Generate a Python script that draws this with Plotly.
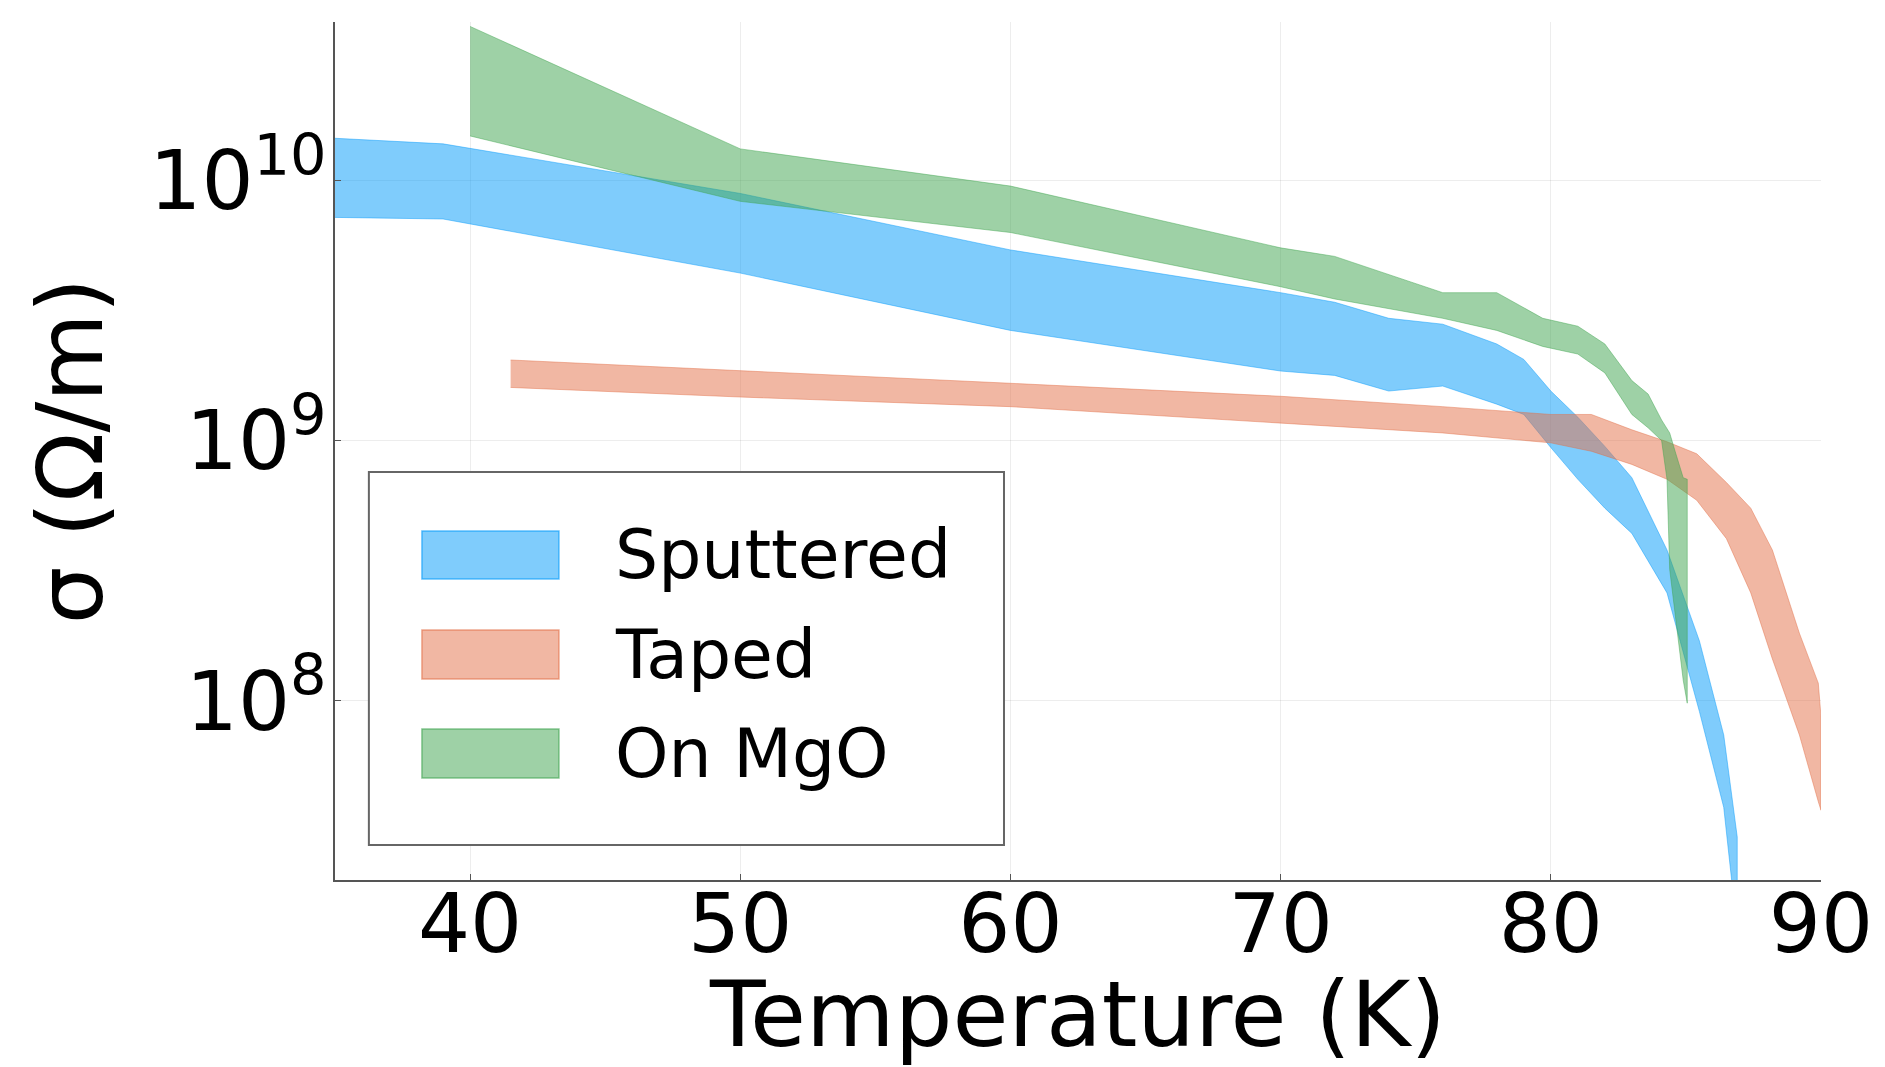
import plotly.graph_objects as go

# ---------------- data ----------------
# Sputtered
T_sput = [35, 39, 50, 60, 70, 72, 74, 76, 78, 79, 80, 81, 82, 83, 84.3, 85.5, 86.4, 86.9]
sput_hi = [1.45e10, 1.38e10, 8.9e9, 5.4e9, 3.7e9, 3.4e9, 2.95e9, 2.8e9, 2.35e9, 2.05e9,
           1.55e9, 1.23e9, 9.5e8, 7.2e8, 3.8e8, 1.7e8, 7.4e7, 3.0e7]
sput_lo = [7.2e9, 7.1e9, 4.4e9, 2.65e9, 1.85e9, 1.78e9, 1.55e9, 1.62e9, 1.38e9, 1.26e9,
           9.4e8, 7.1e8, 5.5e8, 4.4e8, 2.6e8, 9.1e7, 3.9e7, 1.3e7]

# Taped
T_tape = [41.5, 50, 60, 70, 76, 80, 81.5, 83, 84.3, 85.4, 86.5, 87.4, 88.2, 89.2, 89.9, 90]
tape_hi = [2.04e9, 1.86e9, 1.66e9, 1.48e9, 1.35e9, 1.26e9, 1.26e9, 1.10e9, 9.9e8, 8.9e8,
           6.9e8, 5.5e8, 3.8e8, 1.82e8, 1.17e8, 8.7e7]
tape_lo = [1.6e9, 1.47e9, 1.35e9, 1.17e9, 1.07e9, 9.8e8, 9.1e8, 8.1e8, 7.1e8, 5.9e8,
           4.2e8, 2.6e8, 1.45e8, 7.4e7, 4.1e7, 3.8e7]

# On MgO
T_mgo = [40, 50, 60, 70, 72, 76, 78, 79.7, 81, 82, 83, 83.6, 84.1, 84.3, 84.4, 84.6, 84.9, 85.05]
mgo_hi = [3.9e10, 1.32e10, 9.5e9, 5.5e9, 5.1e9, 3.7e9, 3.7e9, 2.95e9, 2.75e9, 2.35e9,
          1.7e9, 1.51e9, 1.2e9, 1.12e9, 1.07e9, 9.1e8, 7.2e8, 7.1e8]
mgo_lo = [1.48e10, 8.3e9, 6.3e9, 3.9e9, 3.5e9, 2.95e9, 2.65e9, 2.3e9, 2.15e9, 1.82e9,
          1.26e9, 1.12e9, 1.0e9, 7.1e8, 3.2e8, 2.1e8, 1.2e8, 9.8e7]

series_names = ["Sputtered", "Taped", "On MgO"]
series_colors = [(0, 154, 250), (227, 111, 71), (62, 164, 78)]

x_ticks = [40, 50, 60, 70, 80, 90]
y_ticks = [1e8, 1e9, 1e10]
y_ticktext = ["10<sup>8</sup>", "10<sup>9</sup>", "10<sup>10</sup>"]

FONT = "DejaVu Sans"

fig = go.Figure()

bands = [(T_sput, sput_hi, sput_lo), (T_tape, tape_hi, tape_lo), (T_mgo, mgo_hi, mgo_lo)]
for (T, hi, lo), name, (r, g, b) in zip(bands, series_names, series_colors):
    xs = list(T) + list(T)[::-1]
    ys = list(hi) + list(lo)[::-1]
    fig.add_trace(go.Scatter(
        x=xs, y=ys, mode="lines", fill="toself", name=name,
        fillcolor=f"rgba({r},{g},{b},0.5)",
        line=dict(color=f"rgba({r},{g},{b},0.45)", width=1),
        showlegend=False, hoverinfo="name",
    ))

# ---------------- custom legend (large swatches as in the reference) ----------------
shapes = [dict(type="rect", xref="paper", yref="paper", x0=0.0228, x1=0.4502,
               y0=0.0408, y1=0.4755, line=dict(color="#666666", width=2),
               fillcolor="white", layer="above")]
rows = [(0.3508, 0.4068), (0.2343, 0.2914), (0.1189, 0.1760)]
annotations = []
for (y0, y1), name, (r, g, b) in zip(rows, series_names, series_colors):
    shapes.append(dict(type="rect", xref="paper", yref="paper", x0=0.0585, x1=0.1507,
                       y0=y0, y1=y1, layer="above",
                       fillcolor=f"rgba({r},{g},{b},0.5)",
                       line=dict(color=f"rgba({r},{g},{b},0.6)", width=1.5)))
    annotations.append(dict(xref="paper", yref="paper", x=0.187, y=(y0 + y1) / 2,
                            text=name, showarrow=False, xanchor="left", yanchor="middle",
                            font=dict(family=FONT, size=68, color="black")))

# page body has an 8px default margin, so the figure is sized to fit the window
fig.update_layout(
    width=1877, height=1059,
    margin=dict(l=327, r=64, t=14, b=187),
    paper_bgcolor="white", plot_bgcolor="white",
    font=dict(family=FONT, color="black"),
    shapes=shapes, annotations=annotations,
    showlegend=False,
)
fig.update_xaxes(
    range=[35, 90], tickvals=x_ticks, ticktext=[str(v) for v in x_ticks],
    showgrid=True, gridcolor="rgba(0,0,0,0.07)", gridwidth=1,
    showline=True, linecolor="#555555", linewidth=2, mirror=False,
    ticks="inside", ticklen=6, tickcolor="#555555",
    tickfont=dict(family=FONT, size=82, color="black"),
    ticklabelstandoff=-28,
    title=dict(text="Temperature (K)", font=dict(family=FONT, size=91, color="black"), standoff=33),
    zeroline=False, automargin=False,
)
fig.update_yaxes(
    type="log", range=[7.312, 10.608], tickvals=y_ticks, ticktext=y_ticktext,
    showgrid=True, gridcolor="rgba(0,0,0,0.07)", gridwidth=1,
    showline=True, linecolor="#555555", linewidth=2, mirror=False,
    ticks="inside", ticklen=6, tickcolor="#555555",
    tickfont=dict(family=FONT, size=82, color="black"),
    ticklabelstandoff=-10,
    title=dict(text="σ (Ω/m)", font=dict(family=FONT, size=91, color="black"), standoff=16),
    zeroline=False, automargin=False,
)

fig.write_html("out.html")
